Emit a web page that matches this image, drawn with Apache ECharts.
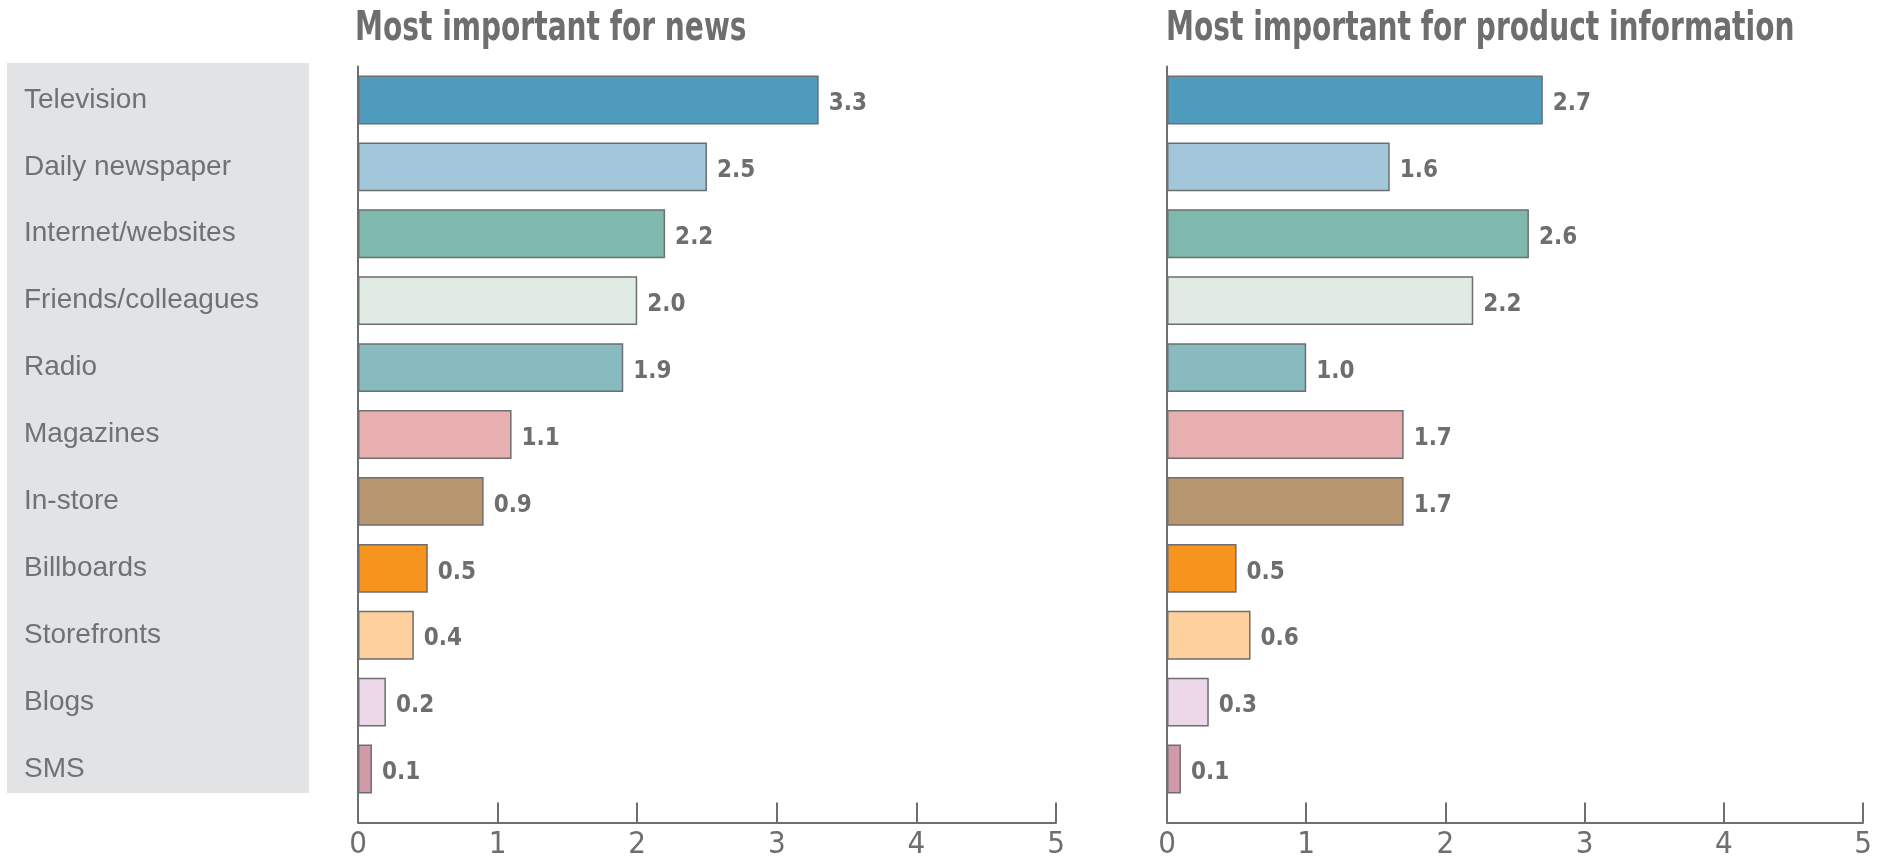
<!DOCTYPE html>
<html>
<head>
<meta charset="utf-8">
<script src="https://cdn.jsdelivr.net/npm/echarts@6/dist/echarts.min.js"></script>
<style>
    html, body { margin: 0; padding: 0; background: #fff; }
    #main { width: 1885px; height: 856px; }
</style>
</head>
<body>
<div id="main"></div>
<script>
var categories = ['Television', 'Daily newspaper', 'Internet/websites', 'Friends/colleagues', 'Radio',
    'Magazines', 'In-store', 'Billboards', 'Storefronts', 'Blogs', 'SMS'];
var newsValues = [3.3, 2.5, 2.2, 2.0, 1.9, 1.1, 0.9, 0.5, 0.4, 0.2, 0.1];
var productValues = [2.7, 1.6, 2.6, 2.2, 1.0, 1.7, 1.7, 0.5, 0.6, 0.3, 0.1];
var tickValues = [0, 1, 2, 3, 4, 5];
var titles = ['Most important for news', 'Most important for product information'];

var colors = ['#4f9bbd', '#a2c6da', '#7fb9ad', '#e0ebe3', '#87bbc0',
    '#e8afb1', '#b8966f', '#f7941d', '#fdd09e', '#ecd8e9', '#d09aa8'];

var grey = '#6d6e70';
var narrow = "'DejaVu Sans Condensed', 'Liberation Sans Narrow', sans-serif";

function barData(values) {
    return values.map(function (v, i) {
        return {value: v, itemStyle: {color: colors[i]}};
    });
}

function xAxisFor(idx) {
    return {
        type: 'value',
        gridIndex: idx,
        min: tickValues[0],
        max: tickValues[tickValues.length - 1],
        interval: 1,
        offset: 20,
        axisLine: {show: true, lineStyle: {color: grey, width: 2}},
        axisTick: {show: true, inside: true, length: 20, lineStyle: {color: grey, width: 2}},
        axisLabel: {color: grey, fontSize: 31, fontFamily: narrow, margin: 7},
        splitLine: {show: false}
    };
}

function yAxisFor(idx, showLabels) {
    return {
        type: 'category',
        gridIndex: idx,
        data: categories,
        inverse: true,
        axisLine: {show: true, lineStyle: {color: grey, width: 2}},
        axisTick: {show: false},
        axisLabel: {
            show: showLabels,
            align: 'left',
            margin: 334,
            color: '#707173',
            fontSize: 28,
            fontFamily: "'Liberation Sans', Arial, sans-serif"
        }
    };
}

function seriesFor(idx, values) {
    return {
        type: 'bar',
        xAxisIndex: idx,
        yAxisIndex: idx,
        data: barData(values),
        barCategoryGap: '27%',
        itemStyle: {borderColor: grey, borderWidth: 1.5},
        label: {
            show: true,
            position: 'right',
            distance: 10,
            offset: [0, 4],
            color: grey,
            fontSize: 24,
            fontWeight: 'bold',
            fontFamily: narrow,
            formatter: function (p) { return p.value.toFixed(1); }
        }
    };
}

// condensed bold headings, squeezed a bit to get the narrow look
function titleText(text, x) {
    return {
        type: 'text',
        x: x,
        y: 10,
        scaleX: 0.78,
        style: {
            text: text,
            fill: grey,
            font: "bold 40px 'DejaVu Sans Condensed', sans-serif",
            textVerticalAlign: 'top'
        }
    };
}

var chart = echarts.init(document.getElementById('main'));

var option = {
    animation: false,
    backgroundColor: '#fff',
    graphic: [
        {
            type: 'rect',
            z: -10,
            shape: {x: 7, y: 63, width: 302, height: 730},
            style: {fill: '#e2e3e5'}
        },
        titleText(titles[0], 355),
        titleText(titles[1], 1166)
    ],
    grid: [
        {left: 358, width: 698, top: 66.5, height: 736, outerBoundsMode: 'none'},
        {left: 1167, width: 696, top: 66.5, height: 736, outerBoundsMode: 'none'}
    ],
    xAxis: [xAxisFor(0), xAxisFor(1)],
    yAxis: [yAxisFor(0, true), yAxisFor(1, false)],
    series: [seriesFor(0, newsValues), seriesFor(1, productValues)]
};

chart.setOption(option);
</script>
</body>
</html>
